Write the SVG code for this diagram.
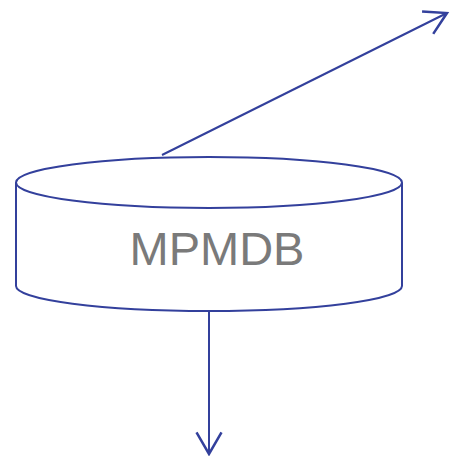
<svg xmlns="http://www.w3.org/2000/svg" width="460" height="456" viewBox="0 0 460 456">
<style>
.ln{fill:none;stroke:#33409c;stroke-width:2}
.lbl{font-family:"Liberation Sans",Arial,sans-serif;font-size:47px;fill:#7a7a7a;text-anchor:middle}
</style>
<defs>
<marker id="arr" markerUnits="userSpaceOnUse" markerWidth="30" markerHeight="30" viewBox="-20 -12 22 24" refX="0" refY="0" orient="auto" overflow="visible">
<path d="M-17.3,-10 L0,0 L-17.3,10" fill="none" stroke="#33409c" stroke-width="2"/>
</marker>
</defs>
<g id="connectors">
<line class="ln" x1="162" y1="155" x2="447" y2="13" marker-end="url(#arr)"/>
<line class="ln" x1="209" y1="311" x2="209" y2="454" marker-end="url(#arr)"/>
</g>
<g id="MPMDB">
<path class="ln" d="M16,182.5 L16,286 A193,25 0 0 0 402,286 L402,182.5" fill="#fff" style="fill:#fff"/>
<ellipse class="ln" cx="209" cy="182.5" rx="193" ry="25.5" style="fill:#fff"/>
<text class="lbl" x="217" y="265">MPMDB</text>
</g>
</svg>
